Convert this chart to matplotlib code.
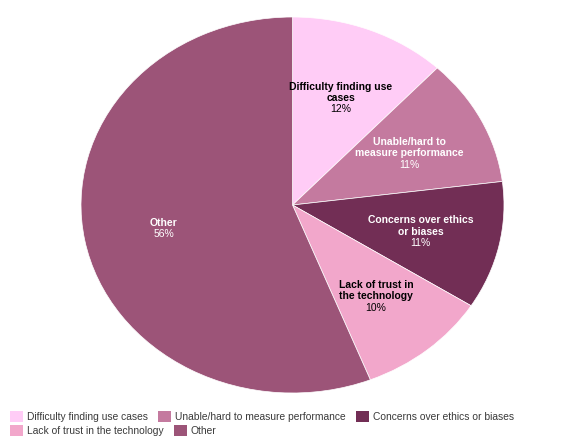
import matplotlib.pyplot as plt
from matplotlib.patches import Patch

plt.rcParams['font.family'] = ['Liberation Sans', 'DejaVu Sans']

# 数据
categories = ["Difficulty finding use cases", "Unable/hard to measure performance",
              "Concerns over ethics or biases", "Lack of trust in the technology", "Other"]
wrapped = ["Difficulty finding use\ncases", "Unable/hard to\nmeasure performance",
           "Concerns over ethics\nor biases", "Lack of trust in\nthe technology", "Other"]
shares = [12, 11, 11, 10, 56]
colors = ['#FFCCF6', '#C47A9F', '#722E55', '#F2A7CB', '#9C5478']
text_colors = ['black', 'white', 'white', 'black', 'white']

fig = plt.figure(figsize=(5.81, 4.48), dpi=100)
ax = fig.add_axes([81/581, 1-393/448, 423/581, 376/448])

wedges, _, autotexts = ax.pie(shares, colors=colors, startangle=90, counterclock=False,
                              autopct='%d%%', pctdistance=0.62,
                              wedgeprops=dict(edgecolor='white', linewidth=0.5))
ax.set_aspect('auto')
ax.set_xlim(-1, 1)
ax.set_ylim(-1, 1)

L = 8.2  # 行高 (pt)
for t, name, tc in zip(autotexts, wrapped, text_colors):
    x, y = t.get_position()
    t.set_visible(False)
    lines = name.split('\n') + [t.get_text()]
    n = len(lines)
    for i, s in enumerate(lines):
        bold = i < n - 1
        ax.annotate(s, (x, y), xytext=(0, ((n-1)/2 - i)*L - 1), textcoords='offset points',
                    ha='center', va='center', fontsize=7.5,
                    fontweight='bold' if bold else 'normal', color=tc)

handles = [Patch(facecolor=c, edgecolor='none') for c in colors]
leg_kw = dict(loc='upper left', frameon=False, fontsize=7.4, borderpad=0, borderaxespad=0,
              handlelength=1.25, handleheight=1.25, handletextpad=0.4, columnspacing=1.0,
              labelcolor='#3a3a3a', bbox_transform=fig.transFigure)
leg1 = fig.legend(handles[:3], categories[:3], ncol=3,
                  bbox_to_anchor=(10/581, 1-411/448), **leg_kw)
leg2 = fig.legend(handles[3:], categories[3:], ncol=2,
                  bbox_to_anchor=(10/581, 1-425/448), **leg_kw)

fig.savefig('out.png', dpi=100)
